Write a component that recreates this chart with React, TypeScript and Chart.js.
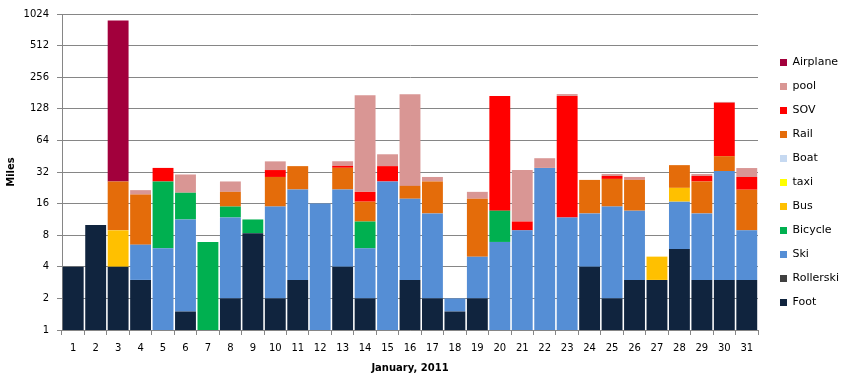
import React, { useEffect, useRef } from 'react';
import { Chart, registerables } from 'chart.js';

Chart.register(...registerables);

const days = ['1','2','3','4','5','6','7','8','9','10','11','12','13','14','15','16','17','18','19','20','21','22','23','24','25','26','27','28','29','30','31'];
const yTicks = [1, 2, 4, 8, 16, 32, 64, 128, 256, 512, 1024];

const foot = [4, 10, 4, 3, null, 1.5, null, 2, 8.35, 2, 3, null, 4, 2, null, 3, 2, 1.5, 2, null, null, null, null, 4, 2, 3, 3, 5.9, 3, 3, 3];
const rollerski = [null, null, null, null, null, null, null, null, null, null, null, null, null, null, null, null, null, null, null, null, null, null, null, null, null, null, null, null, null, null, null];
const ski = [null, null, null, 3.5, 6, 9.8, null, 9.8, null, 13, 18.8, 16, 17.8, 4, 26, 14.8, 10.9, 0.5, 3, 6.9, 8.9, 35, 11.8, 8.9, 13, 10.7, null, 10.8, 9.9, 29.7, 5.9];
const bicycle = [null, null, null, null, 20, 9, 6.9, 3.2, 2.95, null, null, null, null, 4.8, null, null, null, null, null, 6.8, null, null, null, null, null, null, null, null, null, null, null];
const bus = [null, null, 4.9, null, null, null, null, null, null, null, null, null, null, null, null, null, null, null, null, null, null, null, null, null, null, null, 2, 5.9, null, null, null];
const taxi = [null, null, null, null, null, null, null, null, null, null, null, null, null, null, null, null, null, null, null, null, null, null, null, null, null, null, null, null, null, null, null];
const boat = [null, null, null, null, null, null, null, null, null, null, null, null, null, null, null, null, null, null, null, null, null, null, null, null, null, null, null, null, null, null, null];
const rail = [null, null, 17.1, 13, null, null, null, 5.7, null, 13.7, 14.6, null, 13.3, 5.9, null, 5.8, 13.1, null, 12.8, null, null, null, null, 14, 12.5, 13.2, null, 14.6, 13.1, 12.6, 12.8];
const sov = [null, null, null, null, 9, null, null, null, null, 4.7, null, null, 1.5, 4, 10.4, null, null, null, null, 156, 1.9, null, 158, null, 1.8, null, null, null, 3.3, 100.5, 7];
const pool = [null, null, null, 2, null, 10, null, 5.3, null, 7, null, null, 3.9, 152, 10.8, 153, 2.7, null, 2.9, null, 22.6, 8.3, 7, null, 1.3, 1.8, null, null, 1.3, 3, 6.2];
const airplane = [null, null, 860, null, null, null, null, null, null, null, null, null, null, null, null, null, null, null, null, null, null, null, null, null, null, null, null, null, null, null, null];

const FONT = 'DejaVu Sans, Verdana, sans-serif';
const GRID = '#868686';

export default function App() {
  const ref = useRef<HTMLCanvasElement>(null);

  useEffect(() => {
    if (!ref.current) return;
    const legendFix = {
      id: 'legendFix',
      afterInit(chart: any) {
        const lg = chart.legend;
        if (!lg) return;
        const orig = lg.fit.bind(lg);
        lg.fit = function () {
          orig();
          lg.width = 88;
        };
      },
      beforeDraw(chart: any) {
        const lg = chart.legend;
        if (!lg) return;
        lg.left = 767;
        lg.right = 846;
        lg.top = 0;
        lg.bottom = 365;
      },
    };

    const mk = (label: string, data: (number | null)[], color: string) => ({
      label,
      data,
      backgroundColor: color,
      borderWidth: 0,
      barPercentage: 0.93,
      categoryPercentage: 1.0,
    });

    const chart = new Chart(ref.current, {
      type: 'bar',
      data: {
        labels: days,
        datasets: [
          mk('Foot', foot, '#10243E'),
          mk('Rollerski', rollerski, '#404040'),
          mk('Ski', ski, '#558ED5'),
          mk('Bicycle', bicycle, '#00B050'),
          mk('Bus', bus, '#FFC000'),
          mk('taxi', taxi, '#FFFF00'),
          mk('Boat', boat, '#C6D9F1'),
          mk('Rail', rail, '#E46C0A'),
          mk('SOV', sov, '#FF0000'),
          mk('pool', pool, '#D99694'),
          mk('Airplane', airplane, '#A2003C'),
        ] as any,
      },
      plugins: [legendFix],
      options: {
        responsive: false,
        animation: false,
        devicePixelRatio: 1,
        layout: { padding: { top: 10, left: 0, right: 0, bottom: 0 } },
        plugins: {
          tooltip: { enabled: false },
          legend: {
            position: 'right',
            reverse: true,
            labels: {
              boxWidth: 7,
              boxHeight: 7,
              padding: 13,
              color: '#000',
              font: { family: FONT, size: 11 },
            },
          },
        },
        scales: {
          x: {
            stacked: true,
            offset: true,
            grid: {
              display: true,
              drawOnChartArea: false,
              drawTicks: true,
              tickLength: 5,
              color: GRID,
              offset: true,
            },
            border: { display: true, color: GRID },
            ticks: {
              font: { family: FONT, size: 10 },
              color: '#000',
              padding: 7,
              maxRotation: 0,
              autoSkip: false,
            },
            title: {
              display: true,
              text: 'January, 2011',
              font: { family: FONT, size: 10, weight: 'bold' },
              color: '#000',
              padding: { top: 0, bottom: 6 },
            },
            afterFit: (s: any) => {
              s.height = 50;
            },
          },
          y: {
            type: 'logarithmic',
            stacked: true,
            min: 1,
            max: 1024,
            afterBuildTicks: (s: any) => {
              s.ticks = yTicks.map((v) => ({ value: v }));
            },
            ticks: {
              callback: (v: any) => String(v),
              font: { family: FONT, size: 10 },
              color: '#000',
              padding: 8,
            },
            grid: { color: GRID, tickLength: 5 },
            border: { display: true, color: GRID },
            title: {
              display: true,
              text: 'Miles',
              font: { family: FONT, size: 10, weight: 'bold' },
              color: '#000',
              padding: { top: 5, bottom: 0 },
            },
            afterFit: (s: any) => {
              s.width = 62;
            },
          },
        },
      } as any,
    });
    return () => chart.destroy();
  }, []);

  return (
    <div style={{ position: 'absolute', left: 0, top: 0, width: 846, height: 380 }}>
      <canvas ref={ref} width={846} height={380} style={{ display: 'block' }} />
    </div>
  );
}
